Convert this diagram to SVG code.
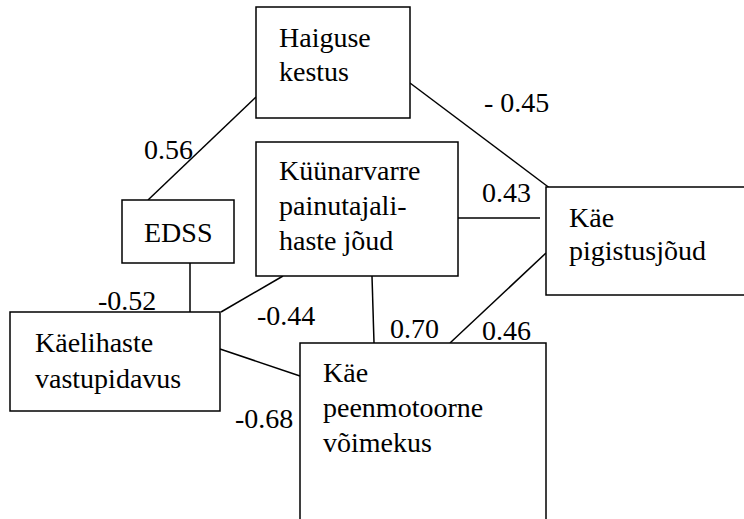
<svg xmlns="http://www.w3.org/2000/svg" width="744" height="519" viewBox="0 0 744 519">
<rect width="744" height="519" fill="#fff"/>
<g id="connectors" stroke="#000" stroke-width="1.5" fill="none">
<line x1="256" y1="97" x2="148" y2="200"/>
<line x1="410" y1="83" x2="551" y2="189"/>
<line x1="458" y1="218" x2="540" y2="218"/>
<line x1="546" y1="253" x2="450" y2="343"/>
<line x1="372" y1="276" x2="374" y2="343"/>
<line x1="190" y1="263" x2="190" y2="312"/>
<line x1="283" y1="276" x2="221" y2="312"/>
<line x1="220" y1="349" x2="300" y2="376"/>
</g>
<g id="labels" font-family="Times New Roman" font-size="28">
<text x="144" y="159" style="font-family:'Times New Roman','Liberation Serif',serif">0.56</text>
<text x="484" y="112" style="font-family:'Times New Roman','Liberation Serif',serif">- 0.45</text>
<text x="482" y="202" style="font-family:'Times New Roman','Liberation Serif',serif">0.43</text>
<text x="98" y="310" style="font-family:'Times New Roman','Liberation Serif',serif">-0.52</text>
<text x="257" y="325" style="font-family:'Times New Roman','Liberation Serif',serif">-0.44</text>
<text x="235" y="428" style="font-family:'Times New Roman','Liberation Serif',serif">-0.68</text>
<text x="390" y="338" style="font-family:'Times New Roman','Liberation Serif',serif">0.70</text>
<text x="482" y="340" style="font-family:'Times New Roman','Liberation Serif',serif">0.46</text>
</g>
<g id="haiguse" font-family="Times New Roman" font-size="28">
<rect x="256" y="7" width="154" height="111" fill="#fff" stroke="#000" stroke-width="1.5"/>
<text x="279" y="47" style="font-family:'Times New Roman','Liberation Serif',serif">Haiguse</text>
<text x="279" y="81" style="font-family:'Times New Roman','Liberation Serif',serif">kestus</text>
</g>
<g id="kyynarvarre" font-family="Times New Roman" font-size="28">
<rect x="256" y="142" width="202" height="134" fill="#fff" stroke="#000" stroke-width="1.5"/>
<text x="279" y="180" style="font-family:'Times New Roman','Liberation Serif',serif">Küünarvarre</text>
<text x="279" y="215" style="font-family:'Times New Roman','Liberation Serif',serif">painutajali-</text>
<text x="279" y="250" style="font-family:'Times New Roman','Liberation Serif',serif">haste jõud</text>
</g>
<g id="edss" font-family="Times New Roman" font-size="28">
<rect x="122" y="200" width="112" height="63" fill="#fff" stroke="#000" stroke-width="1.5"/>
<text x="144" y="242" style="font-family:'Times New Roman','Liberation Serif',serif">EDSS</text>
</g>
<g id="pigistus" font-family="Times New Roman" font-size="28">
<rect x="546" y="187" width="210" height="108" fill="#fff" stroke="#000" stroke-width="1.5"/>
<text x="569" y="227" style="font-family:'Times New Roman','Liberation Serif',serif">Käe</text>
<text x="569" y="260" style="font-family:'Times New Roman','Liberation Serif',serif">pigistusjõud</text>
</g>
<g id="kaelihaste" font-family="Times New Roman" font-size="28">
<rect x="10" y="312" width="210" height="99" fill="#fff" stroke="#000" stroke-width="1.5"/>
<text x="35" y="352" style="font-family:'Times New Roman','Liberation Serif',serif">Käelihaste</text>
<text x="35" y="388" style="font-family:'Times New Roman','Liberation Serif',serif">vastupidavus</text>
</g>
<g id="peenmotoorne" font-family="Times New Roman" font-size="28">
<rect x="300" y="343" width="246" height="190" fill="#fff" stroke="#000" stroke-width="1.5"/>
<text x="323" y="382" style="font-family:'Times New Roman','Liberation Serif',serif">Käe</text>
<text x="323" y="417" style="font-family:'Times New Roman','Liberation Serif',serif">peenmotoorne</text>
<text x="323" y="452" style="font-family:'Times New Roman','Liberation Serif',serif">võimekus</text>
</g>
</svg>
